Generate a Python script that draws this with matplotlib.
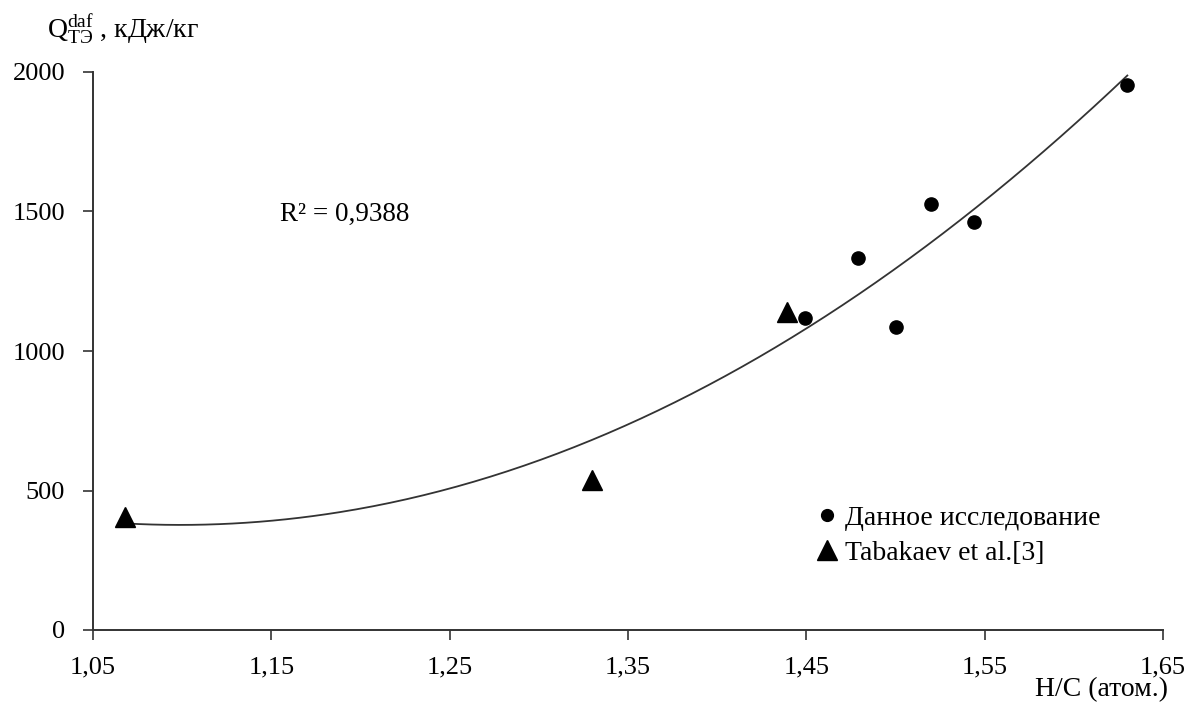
import numpy as np
import matplotlib
matplotlib.use("Agg")
import matplotlib.pyplot as plt
from matplotlib.ticker import FuncFormatter

plt.rcParams['font.family'] = ['Liberation Serif', 'DejaVu Serif']
plt.rcParams['mathtext.fontset'] = 'custom'
plt.rcParams['mathtext.rm'] = 'Liberation Serif'
plt.rcParams['mathtext.it'] = 'Liberation Serif:italic'

# Data
x_study = [1.449, 1.479, 1.500, 1.520, 1.544, 1.630]
y_study = [1118, 1333, 1086, 1527, 1462, 1953]
x_tab = [1.068, 1.330, 1.439]
y_tab = [405, 536, 1140]
x_ticks = [1.05, 1.15, 1.25, 1.35, 1.45, 1.55, 1.65]
y_ticks = [0, 500, 1000, 1500, 2000]
r2_label = "R² = 0,9388"
legend_labels = ["Данное исследование", "Tabakaev et al.[3]"]

fig = plt.figure(figsize=(11.89, 7.04), dpi=100)
ax = fig.add_axes([93/1189, 74/704, (1163-93)/1189, (630-72)/704])

# Quadratic trendline fitted to all points
xa = np.array(x_study + x_tab)
ya = np.array(y_study + y_tab)
coef = np.polyfit(xa, ya, 2)
xs = np.linspace(xa.min(), xa.max(), 300)
ax.plot(xs, np.polyval(coef, xs), color='#333333', lw=1.3, zorder=2)

ax.plot(x_study, y_study, 'o', color='black', ms=9.5, ls='none', zorder=3,
        label=legend_labels[0])
ax.plot(x_tab, y_tab, '^', color='black', ms=14, ls='none', zorder=3,
        label=legend_labels[1])

ax.set_xlim(1.05, 1.65)
ax.set_ylim(0, 2000)
ax.set_xticks(x_ticks)
ax.set_yticks(y_ticks)
ax.xaxis.set_major_formatter(FuncFormatter(lambda v, p: f"{v:.2f}".replace('.', ',')))
ax.tick_params(axis='both', direction='out', length=7, width=1.2, labelsize=19,
               color='#333333')
ax.tick_params(axis='x', pad=12)
ax.tick_params(axis='y', pad=13)
for s in ['top', 'right']:
    ax.spines[s].set_visible(False)
for s in ['left', 'bottom']:
    ax.spines[s].set_linewidth(1.4)
    ax.spines[s].set_color('#333333')

ax.text(0.175, 0.745, r2_label, transform=ax.transAxes, fontsize=19.5, va='center')

fig.text(47/1189, 1 - 30/704, r'$\mathrm{Q}^{\mathrm{daf}}_{\mathrm{ТЭ}}$' + ' , кДж/кг',
         fontsize=20, va='center', ha='left')
fig.text(1168/1189, 1 - 690/704, 'H/C (атом.)', fontsize=20, ha='right', va='center')

leg = ax.legend(loc='upper left', bbox_to_anchor=(0.6585, 0.243), frameon=False,
                fontsize=20, handletextpad=0.0, labelspacing=0.35, borderaxespad=0,
                handlelength=1.3)
leg.legend_handles[0].set_markersize(8.5)

fig.savefig('out.png', dpi=100)
